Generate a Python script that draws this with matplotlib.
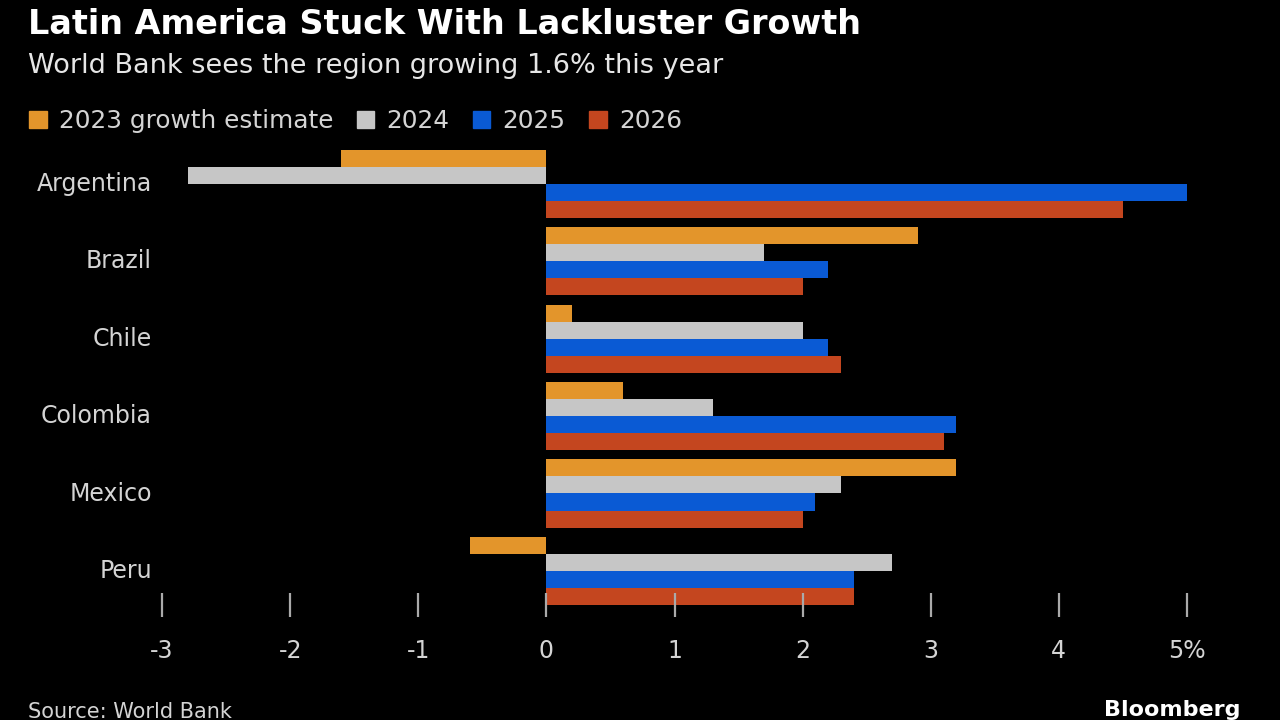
import numpy as np
import matplotlib.pyplot as plt
from matplotlib.patches import Patch

# growth forecasts, %
countries = ['Argentina', 'Brazil', 'Chile', 'Colombia', 'Mexico', 'Peru']
series = ['2023 growth estimate', '2024', '2025', '2026']
g2023 = [-1.6, 2.9, 0.2, 0.6, 3.2, -0.6]
g2024 = [-2.8, 1.7, 2.0, 1.3, 2.3, 2.7]
g2025 = [5.0, 2.2, 2.2, 3.2, 2.1, 2.4]
g2026 = [4.5, 2.0, 2.3, 3.1, 2.0, 2.4]
xticks = [-3, -2, -1, 0, 1, 2, 3, 4, 5]
xtick_labels = ['-3', '-2', '-1', '0', '1', '2', '3', '4', '5%']

colors = ['#e3952b', '#c6c6c6', '#0a5ad4', '#c4461f']
txt = '#d4d4d4'

plt.rcParams['font.family'] = ['DejaVu Sans']

fig = plt.figure(figsize=(12.8, 7.2), dpi=100, facecolor='black')
ax = fig.add_axes([162/1280, 1 - 605/720, (1187 - 162)/1280, 460/720])
ax.set_facecolor('black')

y = np.arange(len(countries))
h = 0.22
for i, vals in enumerate([g2023, g2024, g2025, g2026]):
    ax.barh(y + (i - 1.5) * h, vals, height=h, color=colors[i])

ax.set_xlim(-3, 5)
ax.set_ylim(5.44, -0.5)
ax.set_yticks([])
ax.set_xticks(xticks)
ax.set_xticklabels(xtick_labels)
ax.tick_params(axis='x', direction='inout', length=17, width=1.6, color='#aaaaaa',
               labelcolor=txt, labelsize=17, pad=16)
for s in ax.spines.values():
    s.set_visible(False)

for yi, c in zip(y, countries):
    fig.text(152/1280, 1 - (184 + yi * 77.4)/720, c, ha='right', va='center',
             color=txt, fontsize=17)

fig.text(28/1280, 1 - 24/720, 'Latin America Stuck With Lackluster Growth',
         color='white', fontsize=24, fontweight='bold', va='center')
fig.text(28/1280, 1 - 66/720, 'World Bank sees the region growing 1.6% this year',
         color='#e6e6e6', fontsize=19.5, va='center')

handles = [Patch(color=c) for c in colors]
fig.legend(handles, series, loc='center left', bbox_to_anchor=(7/1280, 1 - 121/720),
           ncol=4, frameon=False, fontsize=17.8, labelcolor=txt,
           handlelength=0.7, handleheight=0.7, handletextpad=0.5, columnspacing=0.95)

fig.text(28/1280, 1 - 712/720, 'Source: World Bank', color=txt, fontsize=15, va='center')
fig.text(1240/1280, 1 - 710/720, 'Bloomberg', color='white', fontsize=16,
         fontweight='bold', ha='right', va='center')

fig.savefig('out.png', dpi=100, facecolor='black')
